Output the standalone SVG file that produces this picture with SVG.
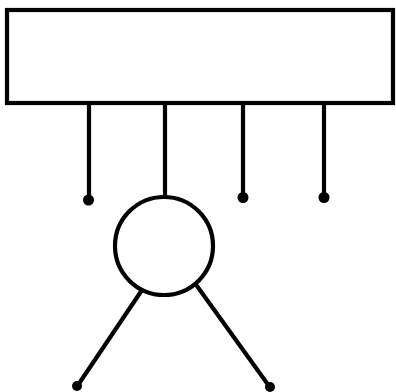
<svg xmlns="http://www.w3.org/2000/svg" width="396" height="392" viewBox="0 0 396 392">
<style>
.s{fill:none;stroke:#000;stroke-width:4.2;stroke-linecap:round}
.d{fill:#000}
</style>
<rect width="396" height="392" fill="#fff"/>
<g id="box"><rect class="s" x="7" y="10" width="386" height="93"/></g>
<g id="circle"><circle class="s" cx="164" cy="246" r="49" stroke-width="3.8"/></g>
<g id="connectors">
<line class="s" x1="89" y1="103" x2="89" y2="198"/>
<circle class="d" cx="88.5" cy="200" r="5.5"/>
<line class="s" x1="165" y1="103" x2="165" y2="197"/>
<line class="s" x1="243" y1="103" x2="243" y2="196"/>
<circle class="d" cx="243" cy="197.5" r="5.5"/>
<line class="s" x1="324" y1="103" x2="324" y2="196"/>
<circle class="d" cx="324" cy="197.5" r="5.5"/>
<line class="s" x1="142" y1="290" x2="78" y2="385" stroke-width="4.8"/>
<circle class="d" cx="77" cy="386" r="5"/>
<line class="s" x1="197" y1="286" x2="269" y2="386"/>
<circle class="d" cx="270" cy="387" r="5"/>
</g>
</svg>
